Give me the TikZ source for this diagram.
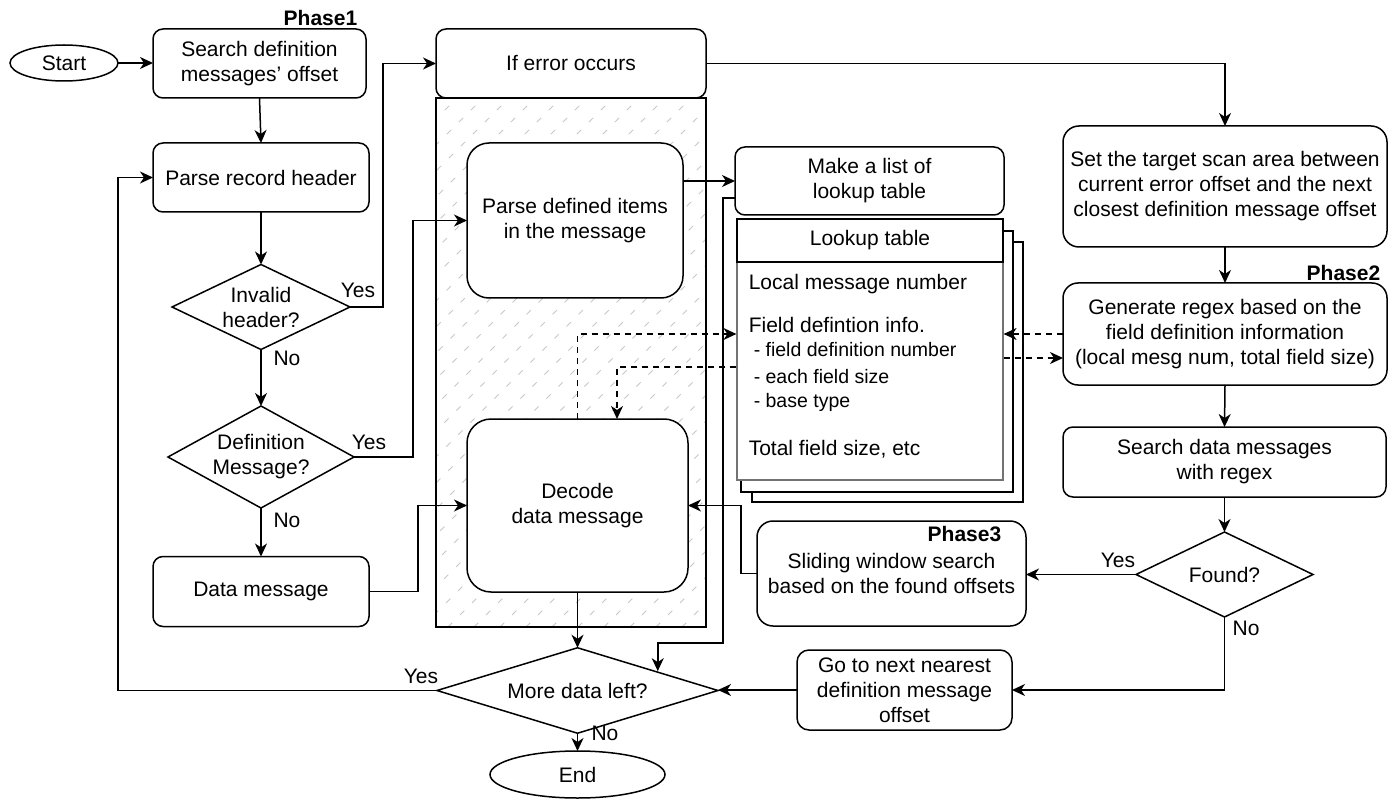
\documentclass[tikz,border=0pt]{standalone}
\usepackage{fontspec}
\setmainfont{Liberation Sans}
\usetikzlibrary{shapes.geometric,arrows.meta}
\begin{document}
\begin{tikzpicture}[x=1pt,y=-1pt,
  font=\fontsize{21pt}{25pt}\selectfont,
  line width=1.5pt,
  procbox/.style={draw, rectangle, fill=white, align=center, inner sep=0pt, outer sep=0pt},
  decision/.style={draw, diamond, aspect=2, fill=white, align=center, inner sep=0pt, outer sep=0pt},
  terminal/.style={draw, ellipse, fill=white, inner sep=0pt, outer sep=0pt},
  arr/.style={-{Stealth[length=13pt,width=12pt,inset=4pt]}},
  darr/.style={arr, dash pattern=on 6pt off 5pt},
  lbl/.style={inner sep=0pt},
  phase/.style={inner sep=0pt, font=\fontsize{21pt}{25pt}\selectfont\bfseries},
  hatch/.style={draw=black!22, line width=0.8pt, dash pattern=on 6pt off 11pt},
  trow/.style={anchor=west, inner sep=0pt, text height=15pt, text depth=5pt},
  subrow/.style={trow, font=\fontsize{19.5pt}{24pt}\selectfont}
]
\useasboundingbox (0,0) rectangle (1396,799);

% ---------- left column ----------
\node[terminal, minimum width=108pt, minimum height=36pt] (start) at (64,63) {Start};
\node[procbox, rounded corners=10pt, minimum width=213pt, minimum height=69pt] (sdef) at (259.5,63.5) {Search definition\\messages' offset};
\node[procbox, rounded corners=10pt, minimum width=216pt, minimum height=69pt] (prh) at (261,177.5) {Parse record header};
\node[decision, minimum width=178pt, minimum height=85pt] (inv) at (261,307) {Invalid\\header?};
\node[decision, minimum width=178pt, minimum height=102pt] (defm) at (261,457) {Definition\\Message?};
\node[procbox, rounded corners=10pt, minimum width=216pt, minimum height=70pt] (data) at (261,591.5) {Data message};
\node[phase, anchor=east] (ph1) at (358,18) {Phase1};

% ---------- hatched error-handling container ----------
\begin{scope}
  \clip (436,98) rectangle (706,627);
  \foreach \k in {0,...,32} \draw[hatch] ({436+26*\k-560},627) -- ++(600,-600);
\end{scope}
\draw[line width=1.3pt] (436,98) rectangle (706,627);
\node[procbox, rounded corners=10pt, minimum width=270pt, minimum height=69pt] (err) at (571,63.5) {If error occurs};
\node[procbox, rounded corners=22pt, minimum width=216pt, minimum height=155pt] (pdi) at (575,220.5) {Parse defined items\\in the message};
\node[procbox, rounded corners=24pt, minimum width=221pt, minimum height=173pt] (dcd) at (577.5,505.5) {Decode\\data message};

% ---------- lookup tables ----------
\node[procbox, rounded corners=10pt, minimum width=269pt, minimum height=68pt] (mkl) at (869.5,181) {Make a list of\\lookup table};
\draw[fill=white] (752,242) rectangle (1023,502);
\draw[fill=white] (741,231) rectangle (1013,492);
\node[draw=black!55, line width=1.2pt, fill=white, minimum width=266pt, minimum height=261pt, inner sep=0pt] (lt) at (870,349.5) {};
\node[draw, line width=1.3pt, fill=white, minimum width=266pt, minimum height=43pt, inner sep=0pt] (lth) at (870,240.5) {Lookup table};
\node[trow] (r1) at (748,285) {Local message number};
\node[trow] (r2) at (748,327) {Field defintion info.};
\node[subrow] (r3) at (753,351) {- field definition number};
\node[subrow] (r4) at (753,378) {- each field size};
\node[subrow] (r5) at (753,402) {- base type};
\node[trow] (r6) at (748,450) {Total field size, etc};

% ---------- right column ----------
\node[procbox, rounded corners=16pt, minimum width=324pt, minimum height=121pt] (set) at (1225,186.5) {Set the target scan area between\\current error offset and the next\\closest definition message offset};
\node[procbox, rounded corners=15pt, minimum width=324pt, minimum height=102pt] (gen) at (1225,334) {Generate regex based on the\\field definition information\\(local mesg num, total field size)};
\node[phase, anchor=east] (ph2) at (1381,273) {Phase2};
\node[procbox, rounded corners=10pt, minimum width=323pt, minimum height=70pt] (srch) at (1224.5,462) {Search data messages\\with regex};
\node[decision, minimum width=177pt, minimum height=85pt] (found) at (1224.5,574.5) {Found?};
\node[procbox, rounded corners=16pt, minimum width=269pt, minimum height=105pt] (sld) at (891.5,573.5) {Sliding window search\\based on the found offsets};
\node[phase, anchor=east] (ph3) at (1002,534) {Phase3};
\node[procbox, rounded corners=12pt, minimum width=215pt, minimum height=80pt] (goto) at (904.5,690) {Go to next nearest\\definition message\\offset};

% ---------- bottom ----------
\node[decision, minimum width=281pt, minimum height=67pt] (more) at (577.5,690.5) {More data left?};
\node[terminal, minimum width=175pt, minimum height=47pt] (end) at (577.5,774.5) {End};

% ---------- branch labels ----------
\node[lbl] (y1) at (358,290) {Yes};
\node[lbl] (n1) at (287,358) {No};
\node[lbl] (y2) at (369,442) {Yes};
\node[lbl] (n2) at (287,520) {No};
\node[lbl] (y3) at (421,676) {Yes};
\node[lbl] (n3) at (605,733) {No};
\node[lbl] (y4) at (1118,560) {Yes};
\node[lbl] (n4) at (1246,628) {No};

% ---------- connectors ----------
\draw[arr] (start.east) -- (start.east -| sdef.west);
\draw[arr] (sdef.south) -- (prh.north);
\draw[arr] (prh.south) -- (inv.north);
\draw[arr] (inv.south) -- (defm.north);
\draw[arr] (defm.south) -- (data.north);
\draw[arr] (inv.east) -- ++(33,0) |- (err.west);
\draw[arr] (defm.east) -- ++(59,0) |- (pdi.west);
\draw[arr] (data.east) -- ++(49,0) |- (dcd.west);
\draw[arr] (more.west) -- ++(-319,0) |- (prh.west);
\draw[arr] (err.east) -| (set.north);
\draw[arr] (set.south) -- (gen.north);
\draw[arr] (gen.south) -- (srch.north);
\draw[arr] (srch.south) -- (found.north);
\draw[arr] (found.west) -- (found.west -| sld.east);
\draw[arr] (found.south) |- (goto.east);
\draw[arr] (goto.west) -- (goto.west -| more.east);
\draw[arr] (sld.west) -- ++(-16,0) |- (dcd.east);
\draw[arr] (pdi.east |- mkl.west) -- (mkl.west);
\draw[arr] ([yshift=-17pt]mkl.west) -- ++(-12,0) -- ++(0,445) -| ([xshift=10pt,yshift=-2pt]more.north east);
\draw[arr] (dcd.south) -- (more.north);
\draw[arr] (more.south) -- (end.north);

% ---------- lookup-table references ----------
\draw[darr] (dcd.north) |- ([yshift=15.5pt]lt.west);
\draw[darr] ([yshift=-17.5pt]lt.west) -| ([xshift=39.5pt]dcd.north);
\draw[darr] (gen.west) -- (gen.west -| lt.east);
\draw[darr] ([yshift=-8.5pt]lt.east) -- ([yshift=-8.5pt]lt.east -| gen.west);
\end{tikzpicture}
\end{document}
